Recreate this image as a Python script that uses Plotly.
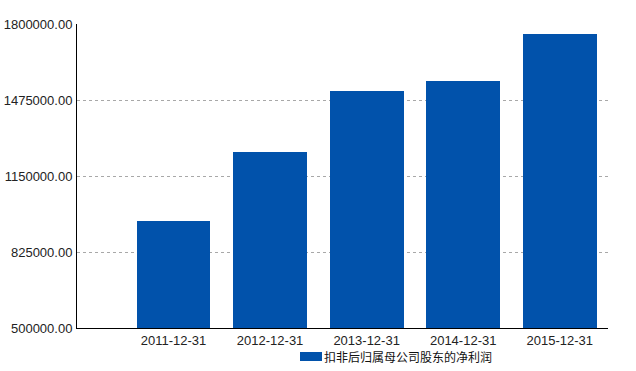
import plotly.graph_objects as go

categories = ["2011-12-31", "2012-12-31", "2013-12-31", "2014-12-31", "2015-12-31"]
values = [957600, 1252600, 1513500, 1556300, 1761500]
series_name = "扣非后归属母公司股东的净利润"
y_ticks = [500000, 825000, 1150000, 1475000, 1800000]
bar_color = "#0152ab"

fig = go.Figure()
fig.add_trace(go.Bar(
    x=list(range(len(categories))), y=values, name=series_name,
    marker=dict(color=bar_color, line=dict(width=0)),
    width=0.765, showlegend=False,
))

# legend drawn manually (wide colour key + label)
fig.add_shape(type="rect", xref="paper", yref="paper",
              x0=(300 - 77) / 531, x1=(322 - 77) / 531,
              y0=-(361 - 328) / 304, y1=-(352 - 328) / 304,
              fillcolor=bar_color, line=dict(width=0))
fig.add_annotation(text=series_name, xref="paper", yref="paper",
                   x=(322 - 77) / 531, y=-(356.5 - 328) / 304,
                   xanchor="left", yanchor="middle", showarrow=False,
                   font=dict(family="Noto Sans CJK SC", size=12, color="#111111"))

fig.update_layout(
    width=636, height=371,
    margin=dict(l=77, r=28, t=24, b=43, autoexpand=False),
    plot_bgcolor="white", paper_bgcolor="white",
    font=dict(family="Liberation Sans, Arial, sans-serif", size=13, color="#222222"),
    showlegend=False,
    bargap=0,
)
fig.update_xaxes(
    range=[-1, 4.5], tickvals=list(range(len(categories))), ticktext=categories,
    showgrid=False, showline=True, linecolor="black", linewidth=1,
    ticks="", zeroline=False, tickfont=dict(size=13, color="#222222"),
)
fig.update_yaxes(
    range=[500000, 1802500], tickvals=y_ticks, tickformat=".2f",
    showgrid=True, gridcolor="#a8a8a8", griddash="3px,3px", gridwidth=1,
    showline=True, linecolor="black", linewidth=1, zeroline=False,
    ticks="", ticklabelstandoff=1, tickfont=dict(size=13, color="#222222"),
)

fig.write_html("out.html")
